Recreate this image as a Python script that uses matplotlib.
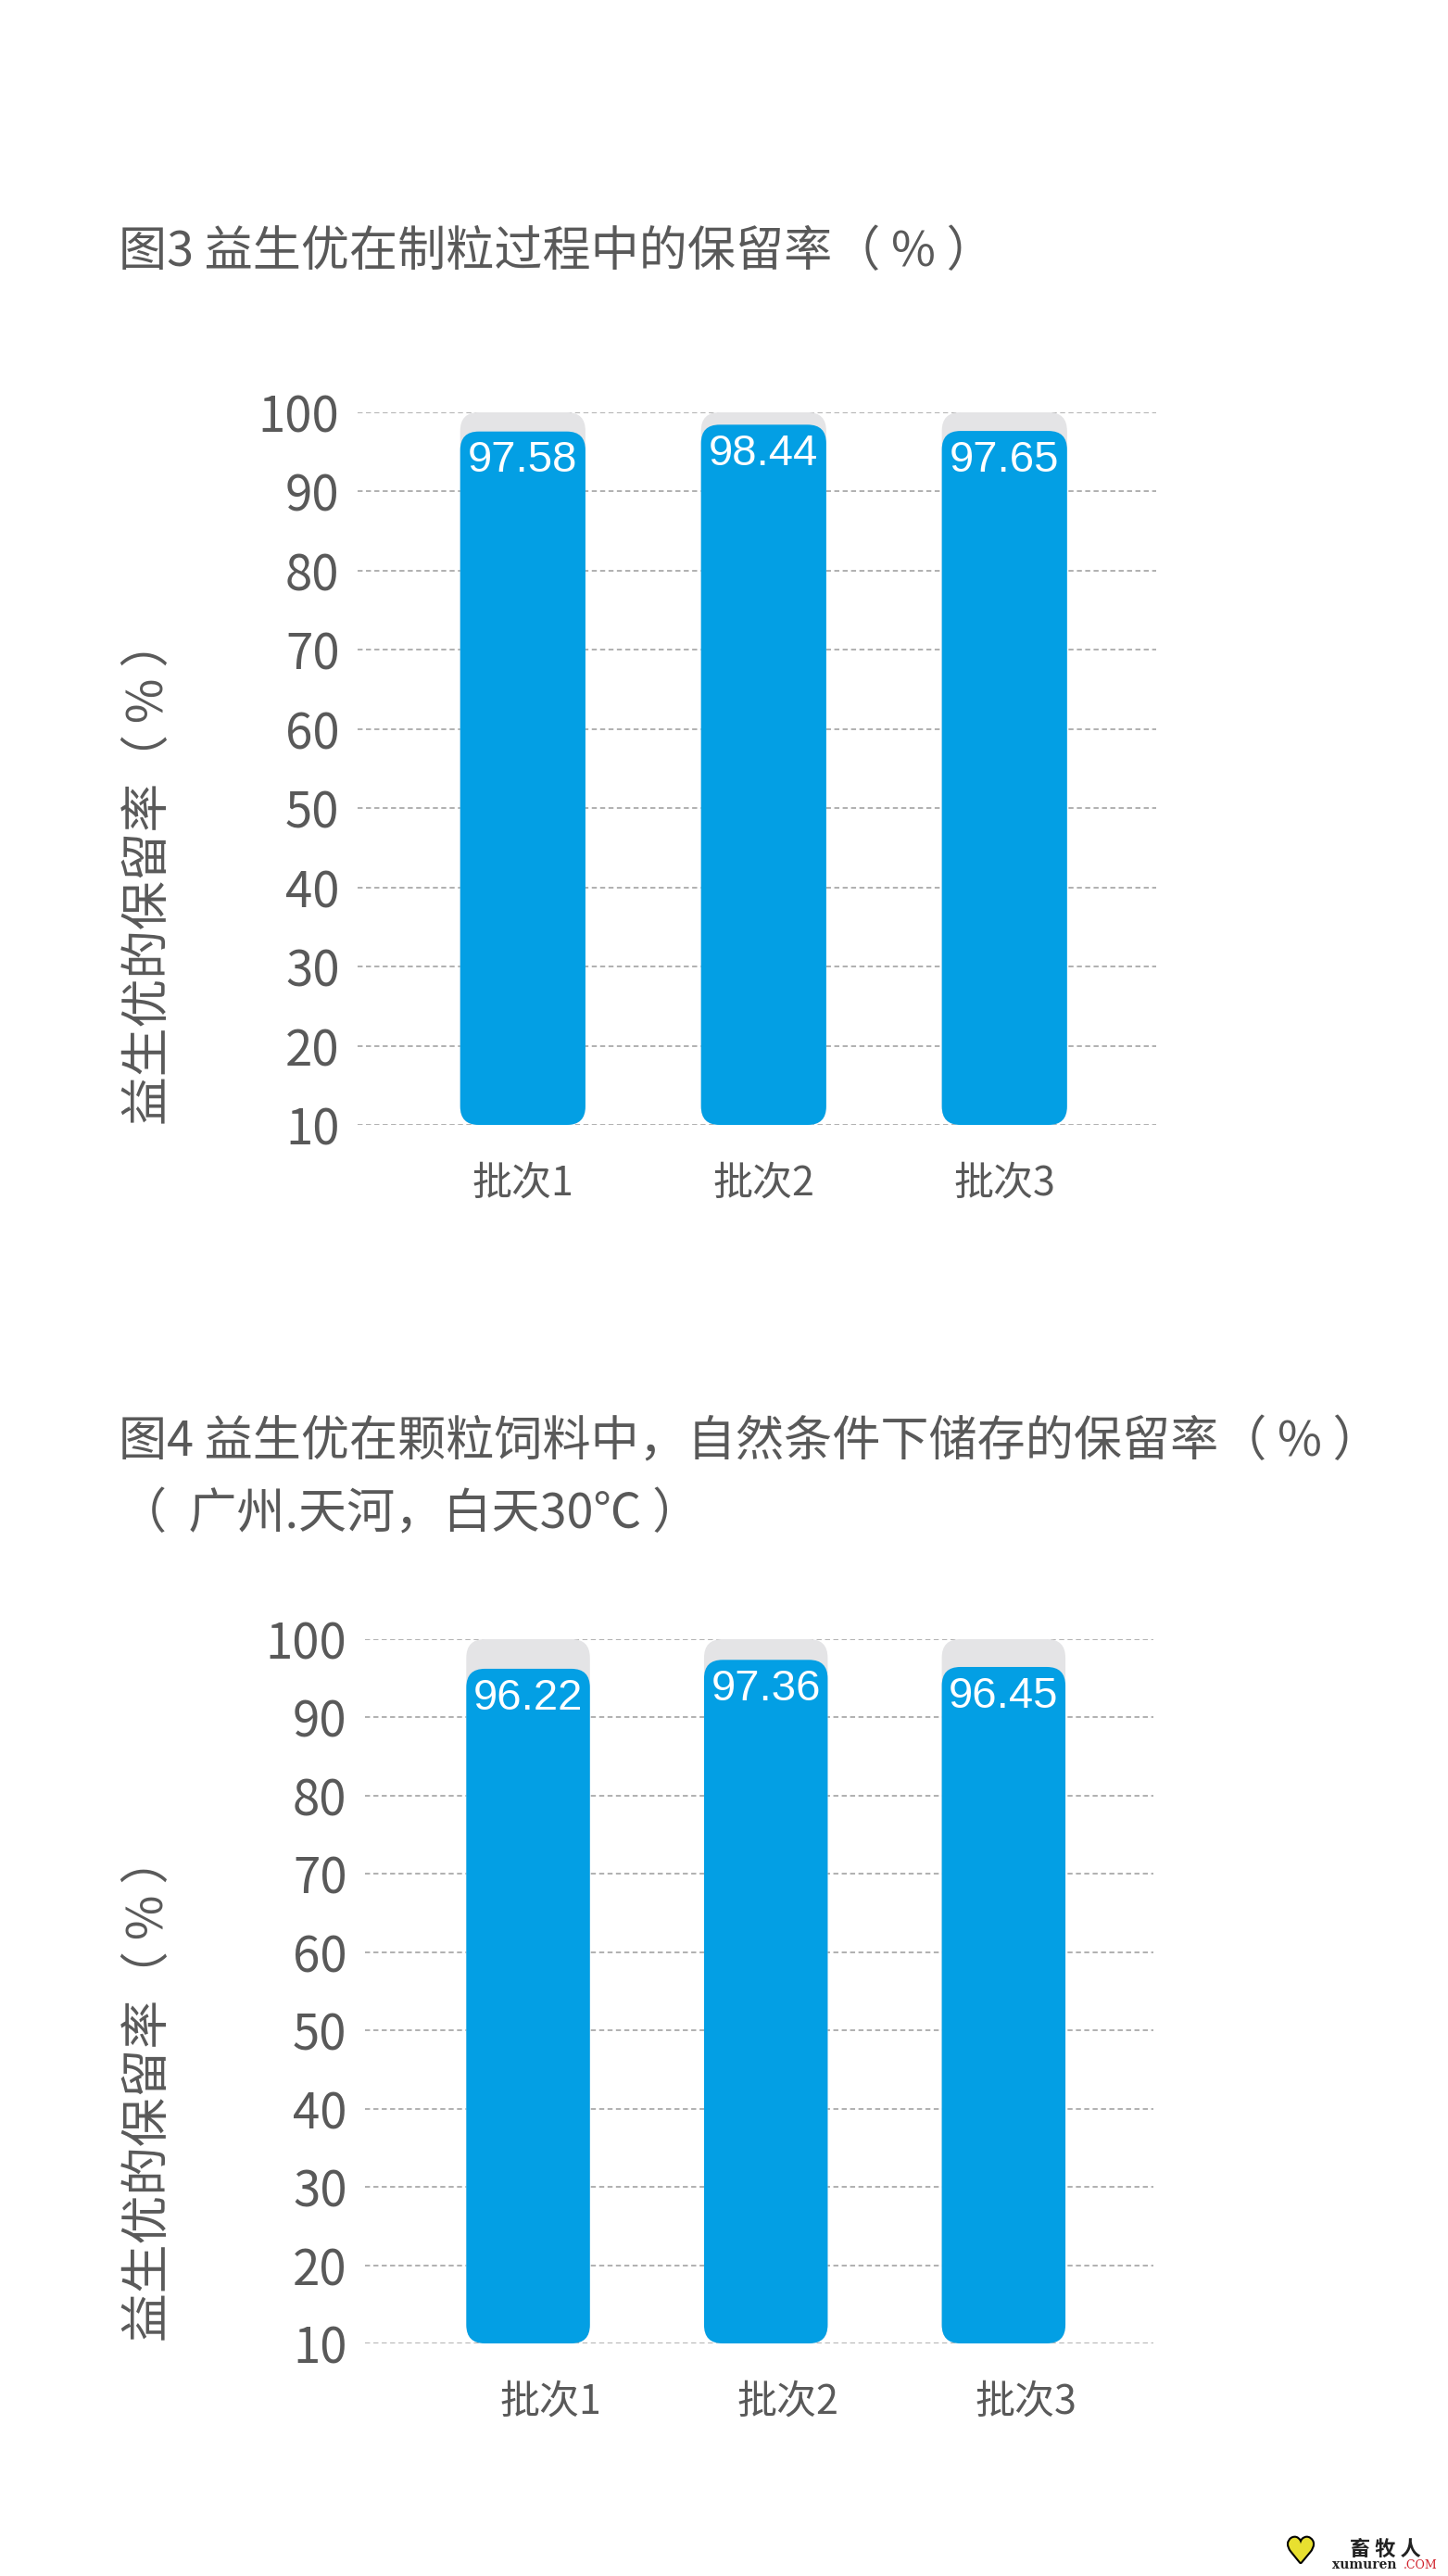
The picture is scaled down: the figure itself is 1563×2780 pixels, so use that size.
import matplotlib.pyplot as plt
from matplotlib.patches import FancyBboxPatch
from matplotlib.transforms import ScaledTranslation
import matplotlib.patheffects as pe

plt.rcParams['font.family'] = ['Noto Sans CJK SC', 'DejaVu Sans']

# data
batches = ['批次1', '批次2', '批次3']
retention_pelleting = [97.58, 98.44, 97.65]
retention_storage = [96.22, 97.36, 96.45]
y_ticks = [10, 20, 30, 40, 50, 60, 70, 80, 90, 100]

title3 = '图3 益生优在制粒过程中的保留率（ % ）'
title4 = '图4 益生优在颗粒饲料中，自然条件下储存的保留率（ % ）\n（  广州.天河，白天30℃ ）'
ylabel = '益生优的保留率（ % ）'

W, H = 1563, 2780
BLUE = '#039fe4'
GREY_BG = '#e4e4e6'
TEXT = '#595959'

fig = plt.figure(figsize=(W / 100, H / 100), dpi=100)
fig.patch.set_facecolor('white')


def fx(px):
    return px / W


def fy(px):
    return 1 - px / H


def draw_chart(box, values, label_shift_px, ylab_bottom):
    left, top, right, bottom = box
    ax = fig.add_axes([fx(left), fy(bottom), fx(right) - fx(left), fy(top) - fy(bottom)])
    xs = list(range(len(values)))
    ax.set_xlim(-0.686, 2.63)
    ax.set_ylim(10, 100)

    # pixels per data unit, for rounded corners
    px_x = (right - left) / (2.63 + 0.686)
    px_y = (bottom - top) / 90.0
    r_px = 20
    rx = r_px / px_x
    ry = r_px / px_y
    w = 0.52

    ax.set_yticks(y_ticks)
    ax.yaxis.grid(True, color='#aaaaaa', lw=1.3, ls=(0, (3, 2)))
    ax.set_axisbelow(True)

    for x, v in zip(xs, values):
        bg = FancyBboxPatch((x - w / 2, 10), w, 90,
                            boxstyle=f'round,pad=0,rounding_size={rx}',
                            mutation_aspect=ry / rx, fc=GREY_BG, ec='none',
                            clip_on=False, zorder=2)
        ax.add_patch(bg)
        bar = FancyBboxPatch((x - w / 2, 10), w, v - 10,
                             boxstyle=f'round,pad=0,rounding_size={rx}',
                             mutation_aspect=ry / rx, fc=BLUE, ec='none',
                             clip_on=False, zorder=3)
        ax.add_patch(bar)
        ax.annotate(f'{v:.2f}', xy=(x, v), xytext=(0, -7), textcoords='offset points',
                    ha='center', va='top', color='white', fontsize=34,
                    family=['Liberation Sans', 'DejaVu Sans'], zorder=4)

    ax.set_xticks(xs)
    ax.set_xticklabels(batches, fontsize=31, color=TEXT)
    ax.tick_params(axis='x', length=0, pad=30)
    ax.tick_params(axis='y', length=0, pad=14, labelsize=38, labelcolor=TEXT)
    off = ScaledTranslation(label_shift_px / 100, 0, fig.dpi_scale_trans)
    for lab in ax.get_xticklabels():
        lab.set_transform(lab.get_transform() + off)
    for s in ax.spines.values():
        s.set_visible(False)

    fig.text(fx(160), fy(ylab_bottom), ylabel, rotation=90, ha='center', va='bottom',
             fontsize=38, color=TEXT)
    return ax


draw_chart((386, 445, 1248, 1214), retention_pelleting, 0, 1214)
draw_chart((394, 1769, 1245, 2529), retention_storage, 24, 2527)

fig.text(fx(128), fy(272), title3, ha='left', va='center', fontsize=37.5, color=TEXT)
fig.text(fx(128), fy(1530), title4, ha='left', va='top', fontsize=37.5, color=TEXT,
         linespacing=1.6)

# watermark
fig.text(fx(1404), fy(2755), '♥', ha='center', va='center', fontsize=26, color='#e8e030',
         family='DejaVu Sans',
         path_effects=[pe.withStroke(linewidth=3, foreground='black')])
fig.text(fx(1495), fy(2751), '畜 牧 人', ha='center', va='center', fontsize=16,
         color='#222222', weight='bold')
fig.text(fx(1438), fy(2768), 'xumuren', ha='left', va='center', fontsize=10,
         color='#222222', weight='bold', family=['DejaVu Serif'])
fig.text(fx(1515), fy(2768), '.COM', ha='left', va='center', fontsize=9,
         color='#d0202a', family=['DejaVu Serif'])

fig.savefig('out.png', dpi=100, facecolor='white')
